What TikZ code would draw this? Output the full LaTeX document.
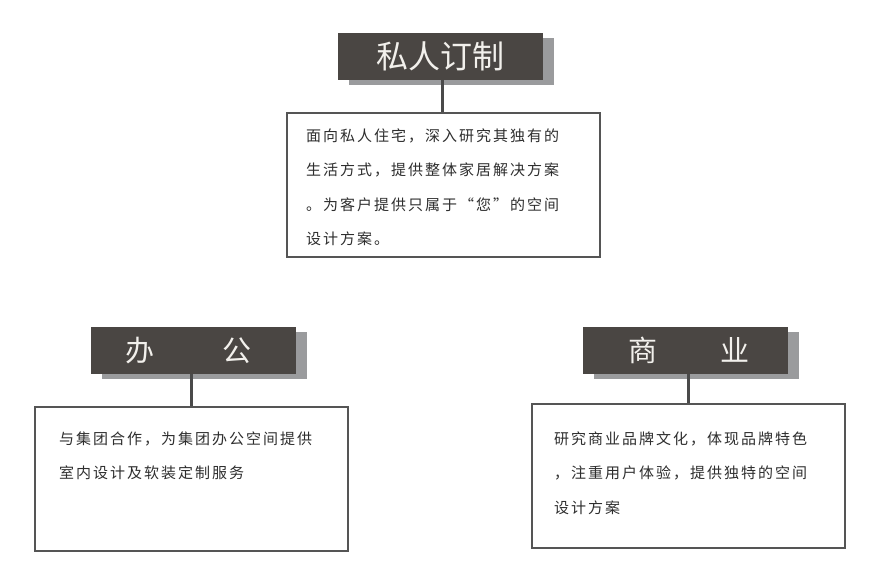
\documentclass[tikz,border=0pt]{standalone}
\usepackage{fontspec}
\newfontfamily\cjk{Noto Sans CJK SC}
\usetikzlibrary{shadows,calc}
\definecolor{darkbox}{HTML}{4A4643}
\definecolor{shadowgray}{HTML}{9A9B9D}
\definecolor{framegray}{HTML}{555555}
\definecolor{linkgray}{HTML}{4A4A4A}
\definecolor{bodytext}{HTML}{2E2E2E}
\definecolor{titletext}{HTML}{F2F0EC}
\newcommand\spacedline[1]{\foreach \c in {#1}{\makebox[17pt][l]{\c}}}
\tikzset{
  headbox/.style={fill=darkbox, draw=none, minimum width=205pt, minimum height=47pt,
    inner sep=0pt, text=titletext, font=\cjk\fontsize{32}{32}\selectfont,
    drop shadow={shadow xshift=11pt, shadow yshift=-5pt, fill=shadowgray, opacity=1}},
  textbox/.style={draw=framegray, line width=2pt, fill=white, minimum width=313pt,
    minimum height=144pt, inner sep=0pt},
  link/.style={draw=linkgray, line width=3pt},
  bodyline/.style={anchor=base west, inner sep=0pt, text=bodytext,
    font=\cjk\fontsize{15}{15}\selectfont}
}
\begin{document}
\begin{tikzpicture}[x=1pt, y=-1pt]
\useasboundingbox[fill=white] (0,0) rectangle (880,587);
% top
\node[headbox] (h1) at (440,56.5) {私人订制};
\node[textbox] (b1) at (443.5,185) {};
\draw[link] (h1.south -| 442,0) -- (b1.north -| 442,0);
\node[bodyline] (t1a) at (306,141) {\spacedline{面,向,私,人,住,宅,，,深,入,研,究,其,独,有,的}};
\node[bodyline] (t1b) at (306,175.5) {\spacedline{生,活,方,式,，,提,供,整,体,家,居,解,决,方,案}};
\node[bodyline] (t1c) at (306,210) {\spacedline{。,为,客,户,提,供,只,属,于,“,您,”,的,空,间}};
\node[bodyline] (t1d) at (306,244.5) {\spacedline{设,计,方,案,。}};
% left
\node[headbox, font=\cjk\fontsize{29}{29}\selectfont] (h2) at (193.5,350.5) {\hspace*{-10pt}办\hspace{68pt}公};
\node[textbox] (b2) at (191.5,479) {};
\draw[link] (h2.south -| 191,0) -- (b2.north -| 191,0);
\node[bodyline] (t2a) at (59,444) {\spacedline{与,集,团,合,作,，,为,集,团,办,公,空,间,提,供}};
\node[bodyline] (t2b) at (59,478.5) {\spacedline{室,内,设,计,及,软,装,定,制,服,务}};
% right
\node[headbox, font=\cjk\fontsize{29}{29}\selectfont] (h3) at (685,350.5) {\hspace*{8pt}商\hspace{63pt}业};
\node[textbox] (b3) at (688.5,476) {};
\draw[link] (h3.south -| 688,0) -- (b3.north -| 688,0);
\node[bodyline] (t3a) at (554,444) {\spacedline{研,究,商,业,品,牌,文,化,，,体,现,品,牌,特,色}};
\node[bodyline] (t3b) at (554,478.5) {\spacedline{，,注,重,用,户,体,验,，,提,供,独,特,的,空,间}};
\node[bodyline] (t3c) at (554,513) {\spacedline{设,计,方,案}};
\end{tikzpicture}
\end{document}
